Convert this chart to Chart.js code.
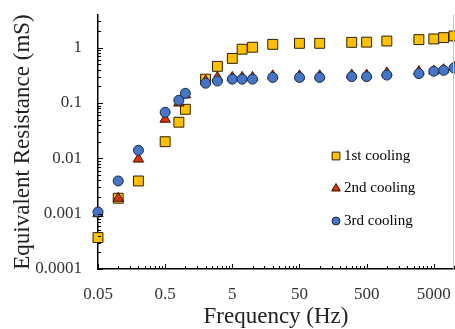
<!DOCTYPE html>
<html>
<head>
<meta charset="utf-8">
<script src="https://cdn.jsdelivr.net/npm/chart.js@4.4.0/dist/chart.umd.min.js"></script>
<style>
  html, body { margin: 0; padding: 0; background: #fff; }
  #wrap { width: 455px; height: 329px; }
</style>
</head>
<body>
<div id="wrap"><canvas id="chart"></canvas></div>
<script>
// frequency (Hz) and equivalent resistance (mS) for each cooling run
const freq     = [0.05, 0.1, 0.2, 0.5, 0.8, 1, 2, 3, 5, 7, 10, 20, 50, 100, 300, 500, 1000, 3000, 5000, 7000, 10000];
const cooling1 = [0.00037, 0.0019, 0.0039, 0.020, 0.045, 0.077, 0.27, 0.46, 0.64, 0.94, 1.02, 1.15, 1.2, 1.2, 1.25, 1.26, 1.32, 1.4, 1.44, 1.52, 1.63];
const cooling2 = [0.001, 0.0019, 0.0097, 0.051, 0.10, 0.14, 0.25, 0.29, 0.29, 0.29, 0.29, 0.31, 0.31, 0.31, 0.32, 0.32, 0.35, 0.37, 0.38, 0.40, 0.44];
const cooling3 = [0.00107, 0.0039, 0.014, 0.068, 0.112, 0.15, 0.228, 0.25, 0.27, 0.27, 0.27, 0.29, 0.29, 0.29, 0.30, 0.30, 0.32, 0.34, 0.375, 0.39, 0.43];
const seriesNames = ['1st cooling', '2nd cooling', '3rd cooling'];

// labelled ticks
const xMajor = [0.05, 0.5, 5, 50, 500, 5000];
const yMajor = [0.0001, 0.001, 0.01, 0.1, 1];
const xMin = 0.05, xMax = 10000;
const yMin = 0.0001, yMax = 3.9;

const serif = "'Liberation Serif', 'Times New Roman', serif";

function toPoints(ys) {
    return freq.map((f, i) => ({ x: f, y: ys[i] }));
}

// majors plus the 2..9 minors of each decade
function withMinors(majors, max) {
    let ticks = [];
    majors.forEach(m => {
        for (let k = 1; k < 10; k++) {
            const v = m * k;
            if (v <= max * 1.0001) ticks.push({ value: v, major: k === 1 });
        }
    });
    return ticks;
}

function fmt(v) {
    return String(Number(v.toPrecision(3)));
}

// tick marks pointing into the plot + thin frame line on the right
const innerTicks = {
    id: 'innerTicks',
    afterDraw(chart) {
        const { ctx, chartArea: a, scales: { x, y } } = chart;
        ctx.save();
        ctx.strokeStyle = '#000';
        ctx.lineWidth = 1;
        ctx.beginPath();
        x.ticks.forEach(t => {
            const px = Math.round(x.getPixelForValue(t.value)) + 0.5;
            const len = t.major ? 5 : 3;
            ctx.moveTo(px, a.bottom);
            ctx.lineTo(px, a.bottom - len);
        });
        y.ticks.forEach(t => {
            const py = Math.round(y.getPixelForValue(t.value)) + 0.5;
            const len = t.major ? 5 : 3;
            ctx.moveTo(a.left, py);
            ctx.lineTo(a.left + len, py);
        });
        ctx.stroke();
        ctx.strokeStyle = '#c4c4c4';
        ctx.beginPath();
        ctx.moveTo(a.right - 0.5, a.top);
        ctx.lineTo(a.right - 0.5, a.bottom);
        ctx.stroke();
        ctx.restore();
    }
};

// legend drawn inside the plot area
const insideLegend = {
    id: 'insideLegend',
    afterDraw(chart) {
        const { ctx, chartArea: a } = chart;
        const sizes = [5.5, 5, 4];
        ctx.save();
        chart.data.datasets.forEach((ds, i) => {
            const cx = a.right - 118;
            const cy = a.top + 141 + i * 32.5;
            ctx.fillStyle = ds.backgroundColor;
            ctx.strokeStyle = ds.borderColor;
            ctx.lineWidth = 1;
            Chart.helpers.drawPoint(ctx, {
                pointStyle: ds.pointStyle, radius: sizes[i], borderWidth: 1, rotation: 0
            }, cx, cy);
            ctx.fillStyle = '#000';
            ctx.font = "15px " + serif;
            ctx.textAlign = 'left';
            ctx.textBaseline = 'middle';
            ctx.fillText(ds.label, cx + 8, cy);
        });
        ctx.restore();
    }
};

const ctx = document.getElementById('chart').getContext('2d');
new Chart(ctx, {
    type: 'scatter',
    data: {
        datasets: [
            {
                label: seriesNames[0], data: toPoints(cooling1), order: 3,
                pointStyle: 'rect', pointRadius: 7, pointHoverRadius: 7,
                backgroundColor: '#FFC000', borderColor: '#2b2000', borderWidth: 1
            },
            {
                label: seriesNames[1], data: toPoints(cooling2), order: 2,
                pointStyle: 'triangle', pointRadius: 6, pointHoverRadius: 6,
                backgroundColor: '#D8360C', borderColor: '#3a1000', borderWidth: 1
            },
            {
                label: seriesNames[2], data: toPoints(cooling3), order: 1,
                pointStyle: 'circle', pointRadius: 5, pointHoverRadius: 5,
                backgroundColor: '#4674C6', borderColor: '#1c2a44', borderWidth: 1
            }
        ]
    },
    options: {
        responsive: true,
        maintainAspectRatio: false,
        animation: false,
        clip: false,
        layout: { autoPadding: false, padding: { top: 15, right: 1, left: 0, bottom: 0 } },
        plugins: {
            legend: { display: false },
            tooltip: { enabled: false }
        },
        scales: {
            x: {
                type: 'logarithmic',
                min: xMin, max: xMax,
                afterBuildTicks: s => { s.ticks = withMinors(xMajor, xMax); },
                afterFit: s => { s.height = 60; s.paddingLeft = 0; s.paddingRight = 0; },
                grid: { drawOnChartArea: false, drawTicks: false },
                border: { color: '#000', width: 1.5 },
                ticks: {
                    autoSkip: false, maxRotation: 0, padding: 15,
                    color: '#333', font: { family: serif, size: 17 },
                    callback: function (v, i, ticks) { return ticks[i].major ? fmt(v) : ''; }
                },
                title: {
                    display: true, text: 'Frequency (Hz)', color: '#222',
                    font: { family: serif, size: 23 }, padding: { top: 0, bottom: -2 }
                }
            },
            y: {
                type: 'logarithmic',
                min: yMin, max: yMax,
                afterBuildTicks: s => { s.ticks = withMinors(yMajor, yMax); },
                afterFit: s => { s.width = 98; s.paddingTop = 0; s.paddingBottom = 0; },
                grid: { drawOnChartArea: false, drawTicks: false },
                border: { color: '#000', width: 1.5 },
                ticks: {
                    autoSkip: false, padding: 16,
                    color: '#333', font: { family: serif, size: 17 },
                    callback: function (v, i, ticks) { return ticks[i].major ? fmt(v) : ''; }
                },
                title: {
                    display: true, text: 'Equivalent Resistance (mS)', color: '#222',
                    font: { family: serif, size: 23 }, padding: { top: 9, bottom: 0 }
                }
            }
        }
    },
    plugins: [innerTicks, insideLegend]
});
</script>
</body>
</html>
